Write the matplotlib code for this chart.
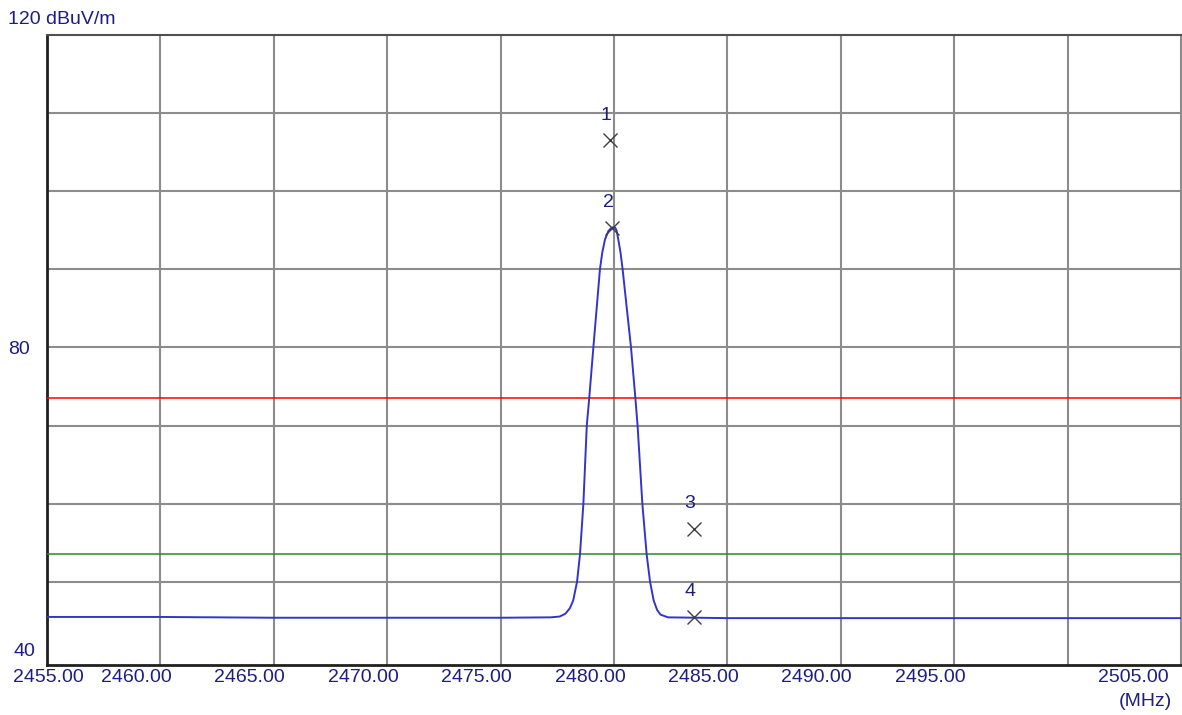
import numpy as np
import matplotlib
matplotlib.use("Agg")
import matplotlib.pyplot as plt
from matplotlib.transforms import ScaledTranslation

plt.rcParams['font.family'] = ['Liberation Sans', 'DejaVu Sans']

# ── Data ──────────────────────────────────────────────────────────────────────
# spectrum trace (MHz, dBuV/m)
freq = [2455.0, 2460.0, 2462.5, 2465.0, 2470.0, 2475.0, 2477.2, 2477.6, 2477.85,
        2478.05, 2478.2, 2478.37, 2478.5, 2478.65, 2478.8, 2478.91, 2479.09, 2479.38,
        2479.48, 2479.6, 2479.75, 2479.88, 2479.97, 2480.06, 2480.12, 2480.19, 2480.29,
        2480.38, 2480.75, 2480.94, 2481.04, 2481.25, 2481.44, 2481.59, 2481.75,
        2481.9, 2482.05, 2482.38, 2485.0, 2490.0, 2495.0, 2500.0, 2505.0]
level = [45.5, 45.5, 45.45, 45.4, 45.4, 45.4, 45.45, 45.55, 45.9,
         46.6, 47.6, 50.0, 53.5, 60.0, 70.0, 73.6, 80.0, 90.0,
         92.1, 93.8, 94.9, 95.3, 95.4, 95.3, 94.9, 93.8, 92.1,
         90.0, 80.0, 73.6, 70.0, 60.0, 53.5, 50.0, 47.6,
         46.4, 45.8, 45.45, 45.35, 45.35, 45.35, 45.35, 45.35]

limit_peak = 73.5   # red
limit_avg = 53.6    # green

marker_ids = ["1", "2", "3", "4"]
marker_freq = [2479.82, 2479.91, 2483.53, 2483.53]
marker_level = [106.5, 95.3, 56.8, 45.5]

xticks = [2455, 2460, 2465, 2470, 2475, 2480, 2485, 2490, 2495, 2500, 2505]
xlabels = ["2455.00", "2460.00", "2465.00", "2470.00", "2475.00", "2480.00",
           "2485.00", "2490.00", "2495.00", "", "2505.00"]
yticks = [50, 60, 70, 80, 90, 100, 110]
ylabels = ["", "", "", "80", "", "", ""]

# ── Plot ──────────────────────────────────────────────────────────────────────
TXT = "#1e1e80"
GRID = "#8c8c8c"

fig = plt.figure(figsize=(11.82, 7.15), dpi=100)
ax = fig.add_axes([47 / 1182, 50 / 715, 1134 / 1182, 630 / 715])

ax.plot(freq, level, color="#3434c8", linewidth=1.4, zorder=4)
ax.axhline(limit_peak, color="#ff0000", linewidth=1.1, zorder=3)
ax.axhline(limit_avg, color="#2a8a2a", linewidth=1.1, zorder=3)

ax.plot(marker_freq, marker_level, linestyle="none", marker="x",
        markersize=10, markeredgewidth=1.0, color="#404040", zorder=5)
for mid, mx, my in zip(marker_ids, marker_freq, marker_level):
    ax.annotate(mid, (mx, my), xytext=(-4, 25), textcoords="offset pixels",
                ha="center", va="center", fontsize=14, color=TXT)

ax.set_xlim(2455, 2505)
ax.set_ylim(39.35, 120)
ax.set_xticks(xticks)
ax.set_xticklabels(xlabels)
ax.set_yticks(yticks)
ax.set_yticklabels(ylabels)
ax.tick_params(length=0, labelsize=14, labelcolor=TXT)
ax.tick_params(axis="x", pad=3)
ax.tick_params(axis="y", pad=12)
ax.grid(True, color=GRID, linewidth=1.5, zorder=1)
ax.set_axisbelow(True)

# shift x labels left like the analyser software does
for i, lab in enumerate(ax.get_xticklabels()):
    if i == 0:
        dx = 1
    elif i == len(xticks) - 1:
        dx = -48
    else:
        dx = -24
    lab.set_transform(lab.get_transform() + ScaledTranslation(dx / 100, 0, fig.dpi_scale_trans))

for side in ["left", "bottom"]:
    ax.spines[side].set_color("#202020")
    ax.spines[side].set_linewidth(2)
ax.spines["top"].set_color("#505050")
ax.spines["top"].set_linewidth(1.5)
ax.spines["right"].set_color(GRID)

fig.text(8 / 1182, 1 - 20 / 715, "120 dBuV/m", fontsize=14, color=TXT,
         ha="left", va="center")
fig.text(35 / 1182, 1 - 651 / 715, "40", fontsize=14, color=TXT,
         ha="right", va="center")
fig.text(1172 / 1182, 1 - 702 / 715, "(MHz)", fontsize=14, color=TXT,
         ha="right", va="center")

fig.savefig("out.png", dpi=100)
